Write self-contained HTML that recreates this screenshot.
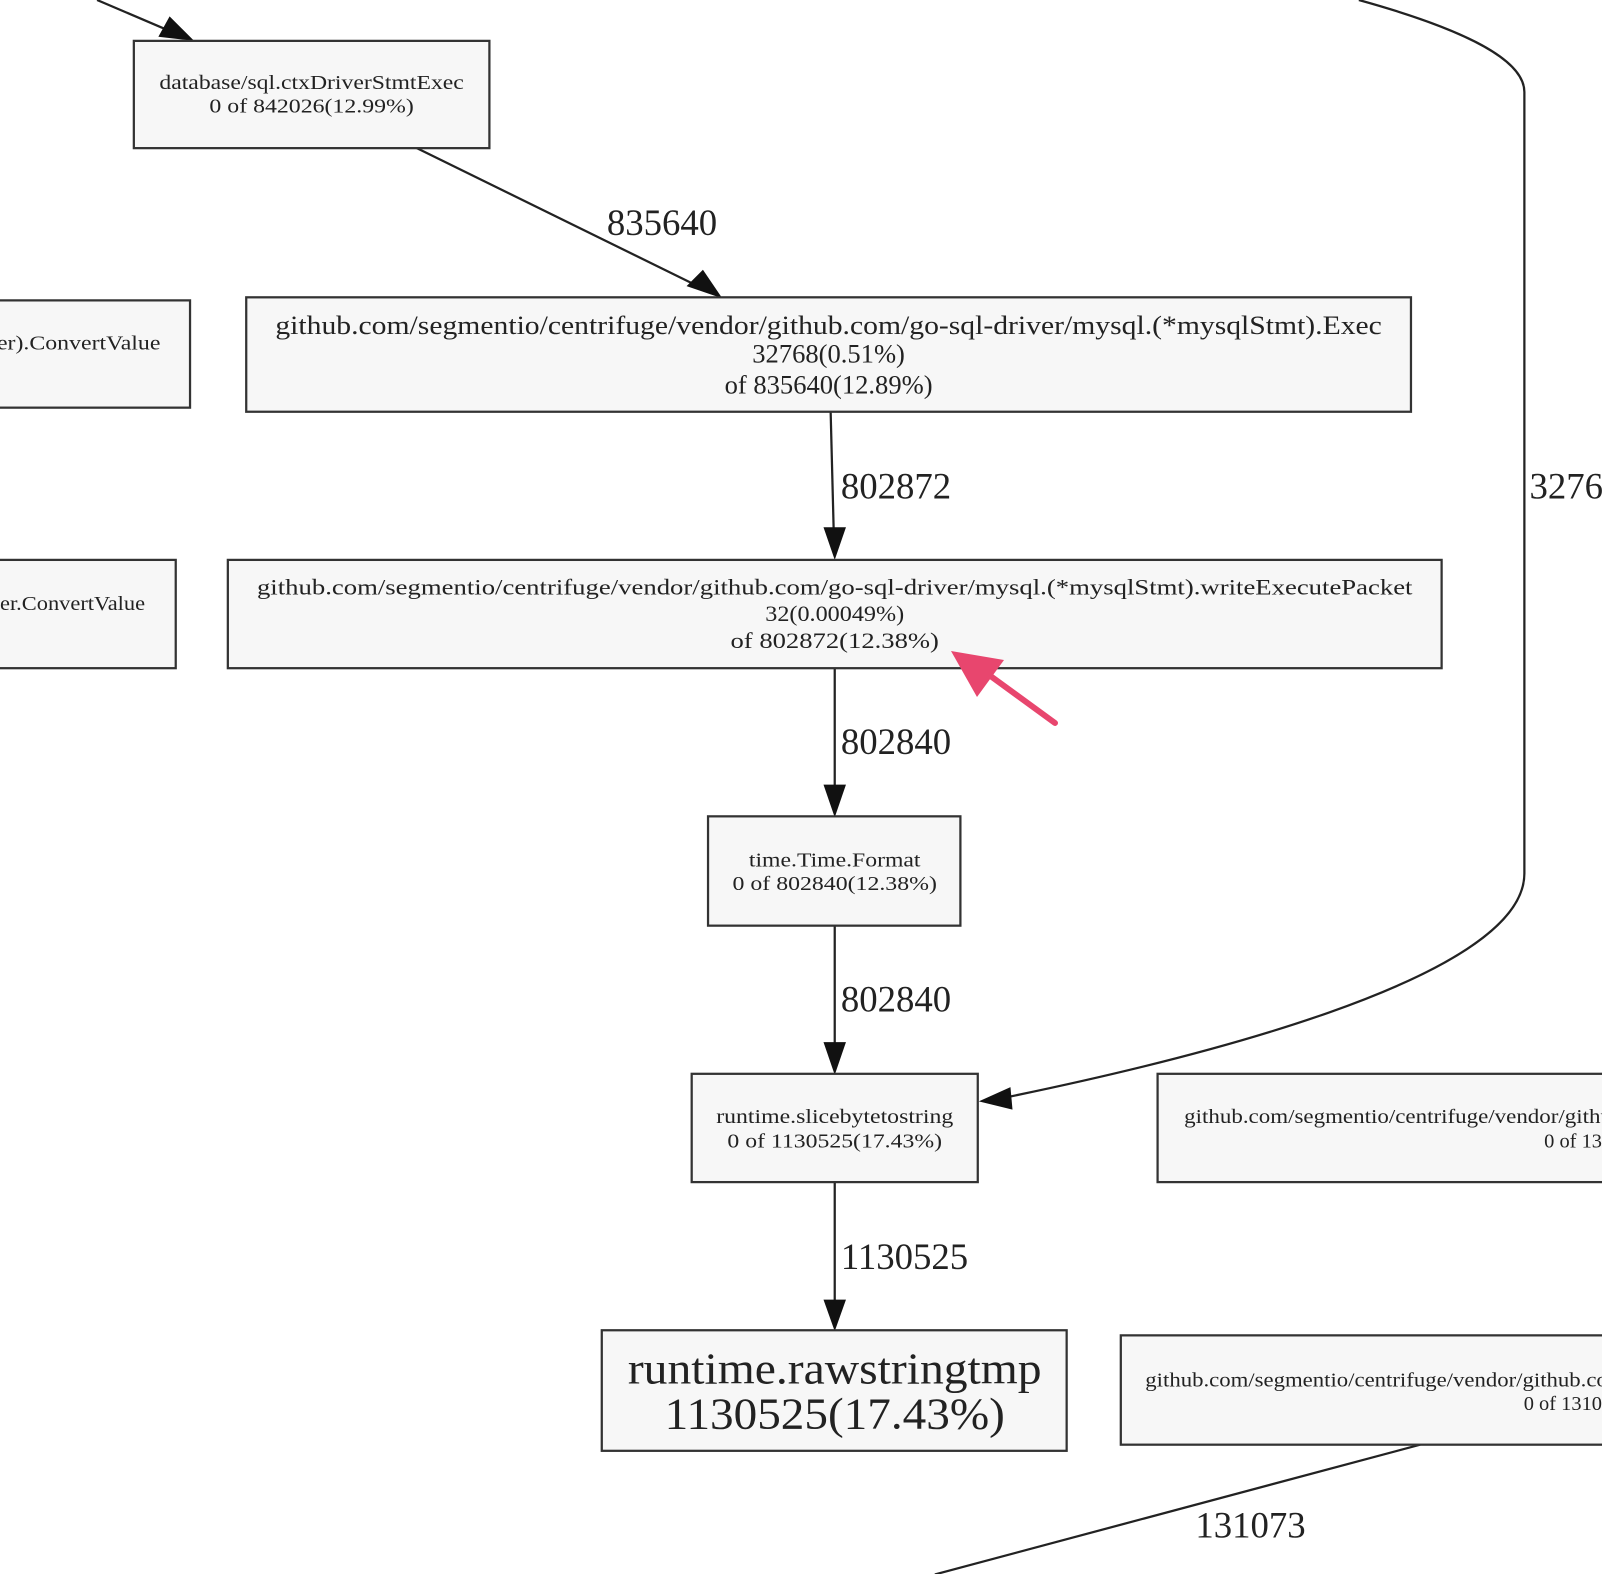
<!DOCTYPE html>
<html><head><meta charset="utf-8"><style>html,body{margin:0;padding:0;background:#fff;}svg{display:block}</style></head>
<body>
<svg width="1602" height="1574" viewBox="0 0 1602 1574" xmlns="http://www.w3.org/2000/svg">
<g transform="scale(1.0217)" font-family="Liberation Serif, serif" fill="#222">
<g stroke="#222" stroke-width="2.2" fill="none">
<line x1="95" y1="0" x2="170" y2="32"/>
<line x1="408" y1="145" x2="685" y2="281"/>
<line x1="813" y1="403" x2="816" y2="520"/>
<line x1="817" y1="654" x2="817" y2="772"/>
<line x1="817" y1="906" x2="817" y2="1024"/>
<line x1="817" y1="1157" x2="817" y2="1276"/>
<path d="M1330,0 C1420,25 1492,55 1492,90 L1492,855 C1492,960 1150,1040 985,1074"/>
<line x1="1390" y1="1414" x2="915" y2="1541"/>
</g>
<g fill="#111">
<polygon points="155,36 190,40 166,16"/>
<polygon points="672,280 707,292 688,264"/>
<polygon points="806,516 828,516 817,548"/>
<polygon points="806,768 828,768 817,800"/>
<polygon points="806,1020 828,1020 817,1052"/>
<polygon points="806,1272 828,1272 817,1303"/>
<polygon points="989,1064 958,1078 991,1086"/>
</g>
<g fill="#f7f7f7" stroke="#333" stroke-width="2.2">
<rect x="131" y="40" width="348" height="105"/>
<rect x="-5" y="294" width="191" height="105"/>
<rect x="241" y="291" width="1140" height="112"/>
<rect x="-5" y="548" width="177" height="106"/>
<rect x="223" y="548" width="1188" height="106"/>
<rect x="693" y="799" width="247" height="107"/>
<rect x="677" y="1051" width="280" height="106"/>
<rect x="1133" y="1051" width="460" height="106"/>
<rect x="589" y="1302" width="455" height="118"/>
<rect x="1097" y="1307" width="496" height="107"/>
</g>
<g font-size="20" text-anchor="middle">
<text x="305" y="87" textLength="298" lengthAdjust="spacingAndGlyphs">database/sql.ctxDriverStmtExec</text>
<text x="305" y="110" textLength="200" lengthAdjust="spacingAndGlyphs">0 of 842026(12.99%)</text>
<text x="157" y="342" text-anchor="end" textLength="160" lengthAdjust="spacingAndGlyphs">er).ConvertValue</text>
<text x="142" y="597" text-anchor="end" textLength="142" lengthAdjust="spacingAndGlyphs">er.ConvertValue</text>
<text x="817" y="582" font-size="22" textLength="1131" lengthAdjust="spacingAndGlyphs">github.com/segmentio/centrifuge/vendor/github.com/go-sql-driver/mysql.(*mysqlStmt).writeExecutePacket</text>
<text x="817" y="608" font-size="22" textLength="136" lengthAdjust="spacingAndGlyphs">32(0.00049%)</text>
<text x="817" y="634" font-size="22" textLength="204" lengthAdjust="spacingAndGlyphs">of 802872(12.38%)</text>
<text x="817" y="848" textLength="168" lengthAdjust="spacingAndGlyphs">time.Time.Format</text>
<text x="817" y="871" textLength="200" lengthAdjust="spacingAndGlyphs">0 of 802840(12.38%)</text>
<text x="817" y="1099" textLength="232" lengthAdjust="spacingAndGlyphs">runtime.slicebytetostring</text>
<text x="817" y="1123" textLength="210" lengthAdjust="spacingAndGlyphs">0 of 1130525(17.43%)</text>
<text x="1159" y="1099" text-anchor="start" textLength="430" lengthAdjust="spacingAndGlyphs">github.com/segmentio/centrifuge/vendor/github</text>
<text x="1568" y="1123" text-anchor="end">0 of 13</text>
<text x="1121" y="1357" text-anchor="start" textLength="470" lengthAdjust="spacingAndGlyphs">github.com/segmentio/centrifuge/vendor/github.com</text>
<text x="1568" y="1380" text-anchor="end">0 of 1310</text>
</g>
<g font-size="26" text-anchor="middle">
<text x="811" y="327" textLength="1083" lengthAdjust="spacingAndGlyphs">github.com/segmentio/centrifuge/vendor/github.com/go-sql-driver/mysql.(*mysqlStmt).Exec</text>
<text x="811" y="355">32768(0.51%)</text>
<text x="811" y="385">of 835640(12.89%)</text>
</g>
<g font-size="44" text-anchor="middle">
<text x="817" y="1354" textLength="405" lengthAdjust="spacingAndGlyphs">runtime.rawstringtmp</text>
<text x="817" y="1398" textLength="333" lengthAdjust="spacingAndGlyphs">1130525(17.43%)</text>
</g>
<g font-size="36">
<text x="594" y="230">835640</text>
<text x="823" y="488">802872</text>
<text x="823" y="738">802840</text>
<text x="823" y="990">802840</text>
<text x="823" y="1242">1130525</text>
<text x="1497" y="488">32768</text>
<text x="1170" y="1505">131073</text>
</g>
</g>
<g>
<line x1="1055" y1="723" x2="985" y2="672" stroke="#e8466e" stroke-width="6" stroke-linecap="round"/>
<polygon points="951,651 1004,660 977,697" fill="#e8466e"/>
</g>
</svg>
</body></html>
